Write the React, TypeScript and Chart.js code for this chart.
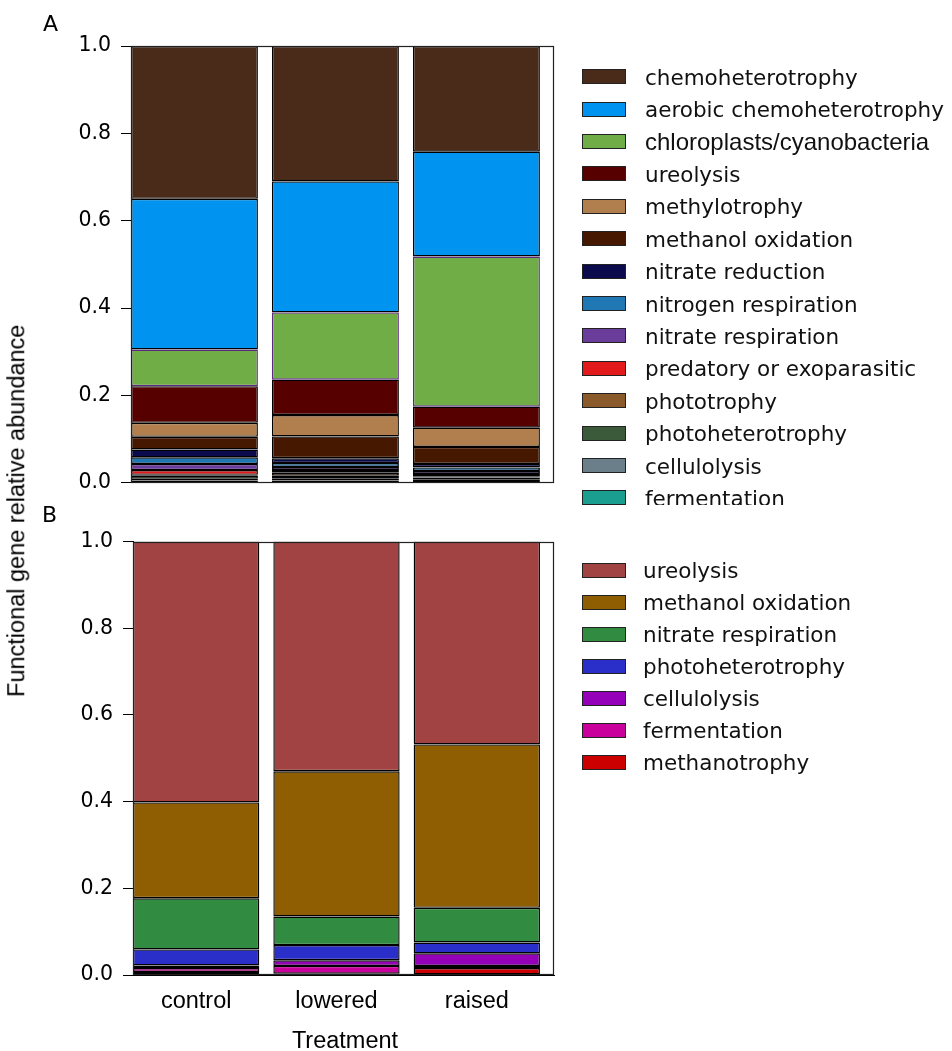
import React, { useEffect, useRef } from "react";
import { Chart, registerables } from "chart.js";

Chart.register(...registerables);

// ---------- shared ----------
const treatments = ["control", "lowered", "raised"];
const yTickStep = 0.2;

// ---------- Panel A (legend order = top of stack first) ----------
const labelsA = [
  "chemoheterotrophy",
  "aerobic chemoheterotrophy",
  "chloroplasts/cyanobacteria",
  "ureolysis",
  "methylotrophy",
  "methanol oxidation",
  "nitrate reduction",
  "nitrogen respiration",
  "nitrate respiration",
  "predatory or exoparasitic",
  "phototrophy",
  "photoheterotrophy",
  "cellulolysis",
  "fermentation",
];
const chemoheterotrophyA = [0.35, 0.31, 0.242];
const aerobicChemoheterotrophyA = [0.345, 0.3, 0.24];
const chloroplastsA = [0.084, 0.154, 0.344];
const ureolysisA = [0.084, 0.081, 0.048];
const methylotrophyA = [0.032, 0.049, 0.044];
const methanolOxidationA = [0.029, 0.05, 0.039];
const nitrateReductionA = [0.018, 0.011, 0.008];
const nitrogenRespirationA = [0.015, 0.009, 0.008];
const nitrateRespirationA = [0.014, 0.007, 0.007];
const predatoryA = [0.011, 0.006, 0.005];
const phototrophyA = [0.002, 0.007, 0.003];
const photoheterotrophyA = [0.007, 0.006, 0.004];
const cellulolysisA = [0.004, 0.005, 0.004];
const fermentationA = [0.005, 0.005, 0.004];
const valuesA = [
  chemoheterotrophyA,
  aerobicChemoheterotrophyA,
  chloroplastsA,
  ureolysisA,
  methylotrophyA,
  methanolOxidationA,
  nitrateReductionA,
  nitrogenRespirationA,
  nitrateRespirationA,
  predatoryA,
  phototrophyA,
  photoheterotrophyA,
  cellulolysisA,
  fermentationA,
];
const colorsA = [
  "#4a2a18",
  "#0093ef",
  "#70ad47",
  "#560000",
  "#b07f4d",
  "#471800",
  "#0b0a4c",
  "#1f78b4",
  "#6b3d9a",
  "#e31a1c",
  "#8b5a2b",
  "#3a5a3a",
  "#6b7f8a",
  "#1a9e90",
];
const edgesA = colorsA.map((_, k) => (k === 2 ? "#5e2a80" : "#000000"));
const legendFontsA = labelsA.map((_, k) =>
  k === 2 ? '24px "Liberation Sans"' : '21.5px "DejaVu Sans"'
);

// ---------- Panel B ----------
const labelsB = [
  "ureolysis",
  "methanol oxidation",
  "nitrate respiration",
  "photoheterotrophy",
  "cellulolysis",
  "fermentation",
  "methanotrophy",
];
const ureolysisB = [0.602, 0.53, 0.468];
const methanolOxidationB = [0.221, 0.335, 0.377];
const nitrateRespirationB = [0.118, 0.066, 0.08];
const photoheterotrophyB = [0.037, 0.035, 0.025];
const cellulolysisB = [0.006, 0.013, 0.029];
const fermentationB = [0.009, 0.018, 0.005];
const methanotrophyB = [0.007, 0.003, 0.016];
const valuesB = [
  ureolysisB,
  methanolOxidationB,
  nitrateRespirationB,
  photoheterotrophyB,
  cellulolysisB,
  fermentationB,
  methanotrophyB,
];
const colorsB = ["#a24343", "#8f5e02", "#318c41", "#2a2fc9", "#9500b9", "#c9009b", "#cc0000"];
const edgesB = colorsB.map(() => "#000000");
const legendFontsB = labelsB.map(() => '21.5px "DejaVu Sans"');

// ---------- plugins ----------
const framePlugin = {
  id: "frame",
  afterDatasetsDraw(chart: any) {
    const { ctx, chartArea: a } = chart;
    ctx.save();
    ctx.strokeStyle = "#222";
    ctx.lineWidth = 1.2;
    const l = Math.round(a.left) + 0.5;
    const t = Math.round(a.top) + 0.5;
    const r = Math.round(a.right) - 0.5;
    const b = Math.round(a.bottom) - 0.5;
    ctx.strokeRect(l, t, r - l, b - t);
    ctx.restore();
  },
};

function makeLegendPlugin(
  labels: string[],
  colors: string[],
  fonts: string[],
  boxX: number,
  textX: number,
  y0: number,
  dy: number
) {
  return {
    id: "customLegend",
    afterDraw(chart: any) {
      const ctx = chart.ctx;
      ctx.save();
      labels.forEach((lab, i) => {
        const cy = y0 + i * dy;
        const bw = 44;
        const bh = 15;
        ctx.fillStyle = colors[i];
        ctx.fillRect(boxX, Math.round(cy - bh / 2), bw, bh);
        ctx.strokeStyle = "#222";
        ctx.lineWidth = 1;
        ctx.strokeRect(boxX + 0.5, Math.round(cy - bh / 2) + 0.5, bw - 1, bh - 1);
        ctx.fillStyle = "#111";
        ctx.font = fonts[i];
        ctx.textBaseline = "alphabetic";
        ctx.textAlign = "left";
        ctx.fillText(lab, textX, cy + 8);
      });
      ctx.restore();
    },
  };
}

function buildConfig(p: {
  labels: string[];
  values: number[][];
  colors: string[];
  edges: string[];
  padTop: number;
  padBottom: number;
  yWidth: number;
  showX: boolean;
  legend: any;
}) {
  const datasets = p.labels
    .map((lab, k) => ({
      label: lab,
      data: p.values[k].map((v, i) => ({ x: i, y: v })),
      backgroundColor: p.colors[k],
      borderColor: p.edges[k],
      borderWidth: 1.4,
      borderSkipped: false,
      inflateAmount: 0,
      categoryPercentage: 1,
      barPercentage: 0.9,
    }))
    .reverse();
  return {
    type: "bar",
    data: { datasets },
    options: {
      responsive: false,
      maintainAspectRatio: false,
      animation: false,
      events: [],
      layout: { padding: { top: p.padTop, bottom: p.padBottom, left: 0, right: 398 } },
      plugins: { legend: { display: false }, tooltip: { enabled: false } },
      scales: {
        x: {
          type: "linear",
          stacked: true,
          min: -0.45,
          max: 2.55,
          offset: false,
          display: p.showX,
          afterBuildTicks: (s: any) => {
            s.ticks = treatments.map((_, i) => ({ value: i }));
          },
          afterFit: (s: any) => {
            if (p.showX) s.height = 76;
          },
          grid: { display: false, drawTicks: false },
          border: { display: true, color: "#000" },
          ticks: {
            autoSkip: false,
            maxRotation: 0,
            padding: 12,
            color: "#000",
            font: { family: "Liberation Sans", size: 23.5 },
            callback: (v: any) => treatments[Math.round(Number(v))] ?? "",
          },
        },
        y: {
          stacked: true,
          min: 0,
          max: 1,
          afterFit: (s: any) => {
            s.width = p.yWidth;
          },
          ticks: {
            stepSize: yTickStep,
            padding: 10,
            color: "#000",
            font: { family: "DejaVu Sans", size: 20.5 },
            callback: (v: any) => Number(v).toFixed(1),
          },
          grid: { drawOnChartArea: false, drawTicks: true, tickLength: 10, color: "#000", lineWidth: 1 },
          border: { display: true, color: "#000" },
        },
      },
    },
    plugins: [framePlugin, p.legend],
  };
}

export default function App() {
  const refA = useRef<HTMLCanvasElement | null>(null);
  const refB = useRef<HTMLCanvasElement | null>(null);

  useEffect(() => {
    const chartA = new Chart(
      refA.current as HTMLCanvasElement,
      buildConfig({
        labels: labelsA,
        values: valuesA,
        colors: colorsA,
        edges: edgesA,
        padTop: 46,
        padBottom: 19,
        yWidth: 131,
        showX: false,
        legend: makeLegendPlugin(labelsA, colorsA, legendFontsA, 582, 645, 76.7, 32.4),
      }) as any
    );
    const chartB = new Chart(
      refB.current as HTMLCanvasElement,
      buildConfig({
        labels: labelsB,
        values: valuesB,
        colors: colorsB,
        edges: edgesB,
        padTop: 36.5,
        padBottom: 0,
        yWidth: 133,
        showX: true,
        legend: makeLegendPlugin(labelsB, colorsB, legendFontsB, 582, 643, 570 - 505, 32.05),
      }) as any
    );
    return () => {
      chartA.destroy();
      chartB.destroy();
    };
  }, []);

  return (
    <div
      style={{
        position: "absolute",
        left: 0,
        top: 0,
        width: 952,
        height: 1051,
        overflow: "hidden",
        background: "#fff",
      }}
    >
      <canvas
        ref={refA}
        width={952}
        height={505}
        style={{ position: "absolute", left: 0, top: 0, width: 952, height: 505, display: "block" }}
      />
      <canvas
        ref={refB}
        width={952}
        height={546}
        style={{ position: "absolute", left: 0, top: 505, width: 952, height: 546, display: "block" }}
      />
      <div
        style={{
          position: "absolute",
          left: 43,
          top: 13,
          font: '22px "DejaVu Sans"',
          lineHeight: "22px",
          color: "#000",
        }}
      >
        A
      </div>
      <div
        style={{
          position: "absolute",
          left: 42,
          top: 504,
          font: '22px "DejaVu Sans"',
          lineHeight: "22px",
          color: "#000",
        }}
      >
        B
      </div>
      <div
        style={{
          position: "absolute",
          left: 15 - 250,
          top: 511 - 11.75,
          width: 500,
          height: 23.5,
          lineHeight: "23.5px",
          font: '23.5px "Liberation Sans"',
          textAlign: "center",
          color: "#000",
          transform: "rotate(-90deg)",
          whiteSpace: "nowrap",
        }}
      >
        Functional gene relative abundance
      </div>
      <div
        style={{
          position: "absolute",
          left: 345 - 100,
          top: 1027,
          width: 200,
          lineHeight: "23.5px",
          font: '23.5px "Liberation Sans"',
          textAlign: "center",
          color: "#000",
          whiteSpace: "nowrap",
        }}
      >
        Treatment
      </div>
    </div>
  );
}
